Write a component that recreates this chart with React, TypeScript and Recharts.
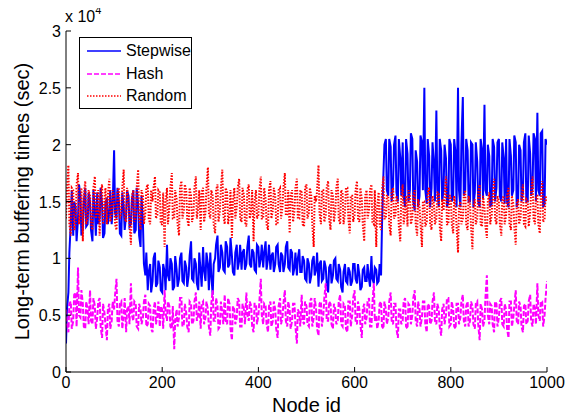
import React from 'react';
import { LineChart, Line, XAxis, YAxis } from 'recharts';

// Samples are read at node ids 0,5,10,...,1000 (A) and 2,7,12,...,997 (B)
const NODE_STEP = 5;
const B_OFFSET = 2;

// Long-term buffering times, in units of 10^4 sec
const stepwiseA = [
  0.25, 0.7, 1.32, 1.2, 1.45, 1.35, 1.55, 1.25, 1.62, 1.3,
  1.5, 1.15, 1.42, 1.58, 1.35, 1.48, 1.22, 1.52, 1.4, 1.3,
  1.95, 1.35, 1.5, 1.2, 1.45, 1.38, 1.55, 1.3, 1.6, 1.25,
  1.48, 1.1, 1.3, 0.85, 0.72, 0.95, 0.8, 1.05, 0.78, 0.92,
  0.7, 0.88, 1.12, 0.8, 0.95, 0.75, 0.9, 0.82, 1.05, 0.78,
  0.92, 0.85, 1.15, 0.8, 0.95, 0.72, 0.88, 1.1, 0.8, 0.95,
  1.05, 0.68, 1.0, 1.2, 0.92, 1.05, 0.88, 1.1, 0.95, 1.02,
  0.85, 1.12, 0.98, 0.9, 1.08, 0.95, 1.2, 0.92, 1.05, 0.88,
  1.1, 1.0, 0.92, 1.15, 1.0, 0.9, 1.05, 0.95, 1.12, 0.88,
  1.02, 0.95, 1.15, 0.9, 1.05, 0.92, 0.85, 1.08, 0.88, 0.98,
  0.8, 0.95, 0.85, 1.02, 0.9, 0.75, 0.98, 0.82, 0.92, 0.7,
  0.95, 0.85, 1.0, 0.8, 0.9, 0.7, 0.95, 0.78, 0.88, 0.8,
  0.95, 0.78, 0.85, 0.75, 0.92, 0.8, 0.82, 1.02, 0.78, 0.9,
  0.8, 0.85, 1.75, 2.05, 1.55, 1.98, 1.65, 2.08, 1.5, 1.88,
  2.02, 1.45, 1.92, 1.6, 2.05, 1.42, 1.85, 1.55, 2.02, 2.5,
  1.48, 1.9, 1.62, 1.82, 2.3, 1.45, 1.95, 1.6, 1.88, 1.5,
  2.0, 1.55, 1.92, 2.5, 1.45, 2.42, 1.6, 1.95, 1.5, 2.0,
  1.58, 1.85, 1.45, 1.95, 2.35, 1.55, 1.9, 1.48, 1.98, 1.62,
  2.05, 1.5, 1.88, 2.05, 1.45, 1.9, 1.6, 2.02, 1.52, 1.95,
  1.58, 2.1, 1.5, 1.92, 1.62, 2.05, 2.28, 1.55, 2.12, 1.48,
  2.0,
];
const stepwiseB = [
  0.55, 1.05, 1.6, 1.5, 1.15, 1.65, 1.2, 1.5, 1.28, 1.58,
  1.25, 1.6, 1.2, 1.3, 1.62, 1.18, 1.5, 1.3, 1.6, 1.45,
  1.4, 1.62, 1.22, 1.58, 1.25, 1.6, 1.28, 1.52, 1.22, 1.62,
  1.2, 1.55, 0.95, 1.05, 0.88, 0.7, 1.0, 0.75, 0.98, 0.72,
  0.95, 0.72, 0.85, 1.0, 0.72, 1.02, 0.75, 1.0, 0.8, 0.98,
  0.75, 1.02, 0.82, 1.0, 0.78, 1.05, 0.75, 0.9, 1.05, 0.72,
  0.85, 0.95, 1.12, 0.88, 1.12, 0.9, 1.15, 0.92, 1.18, 0.88,
  1.05, 0.9, 1.12, 1.05, 0.9, 1.1, 0.95, 1.08, 0.9, 1.12,
  0.92, 1.12, 1.05, 0.9, 1.12, 1.02, 0.88, 1.1, 0.95, 1.05,
  0.88, 1.1, 0.92, 1.08, 0.85, 1.05, 1.0, 0.88, 1.02, 0.82,
  1.0, 0.78, 0.98, 0.85, 1.05, 0.95, 0.8, 0.98, 0.78, 0.92,
  0.78, 0.98, 0.82, 0.95, 0.75, 0.88, 0.8, 0.92, 0.76, 0.95,
  0.82, 0.95, 0.72, 0.9, 0.8, 0.95, 0.75, 0.82, 0.92, 0.78,
  0.95, 1.3, 2.0, 1.6, 2.05, 1.5, 2.0, 1.58, 2.05, 1.55,
  1.55, 2.05, 1.5, 2.1, 1.5, 1.95, 1.45, 2.08, 1.6, 1.6,
  2.05, 1.45, 2.02, 1.5, 1.6, 2.05, 1.5, 2.0, 1.45, 2.05,
  1.5, 2.05, 1.45, 1.6, 2.0, 1.55, 2.05, 1.5, 2.02, 1.45,
  2.02, 1.5, 2.05, 1.52, 1.6, 2.0, 1.45, 2.05, 1.5, 2.02,
  1.55, 2.02, 1.48, 1.5, 2.05, 1.55, 2.08, 1.45, 2.0, 1.5,
  2.02, 1.5, 2.08, 1.55, 2.1, 1.5, 1.6, 2.1, 1.45, 2.05,
];

const hashA = [
  0.55, 0.35, 0.62, 0.45, 0.7, 0.92, 0.48, 0.6, 0.38, 0.55,
  0.72, 0.42, 0.58, 0.48, 0.65, 0.3, 0.52, 0.28, 0.6, 0.45,
  0.55, 0.82, 0.4, 0.62, 0.5, 0.35, 0.58, 0.78, 0.45, 0.6,
  0.38, 0.55, 0.48, 0.68, 0.42, 0.58, 0.35, 0.62, 0.5, 0.4,
  0.55, 0.72, 0.45, 0.58, 0.38, 0.2, 0.55, 0.48, 0.65, 0.42,
  0.52, 0.35, 0.6, 0.45, 0.7, 0.5, 0.38, 0.62, 0.48, 0.55,
  0.32, 0.72, 0.45, 0.58, 0.4, 0.52, 0.68, 0.42, 0.6, 0.28,
  0.55, 0.48, 0.62, 0.4, 0.55, 0.7, 0.45, 0.58, 0.35, 0.6,
  0.5, 0.82, 0.42, 0.58, 0.35, 0.62, 0.45, 0.55, 0.3, 0.65,
  0.48, 0.72, 0.4, 0.55, 0.45, 0.6, 0.25, 0.52, 0.68, 0.42,
  0.58, 0.4, 0.65, 0.48, 0.55, 0.32, 0.62, 0.5, 0.78, 0.45,
  0.6, 0.38, 0.55, 0.45, 0.68, 0.4, 0.58, 0.35, 0.62, 0.5,
  0.72, 0.42, 0.55, 0.3, 0.6, 0.48, 0.65, 0.4, 0.78, 0.5,
  0.45, 0.62, 0.38, 0.55, 0.48, 0.7, 0.42, 0.6, 0.3, 0.55,
  0.45, 0.65, 0.38, 0.58, 0.5, 0.72, 0.4, 0.55, 0.48, 0.62,
  0.35, 0.58, 0.45, 0.7, 0.42, 0.55, 0.32, 0.6, 0.5, 0.65,
  0.42, 0.55, 0.38, 0.6, 0.48, 0.68, 0.4, 0.62, 0.45, 0.58,
  0.38, 0.62, 0.28, 0.55, 0.45, 0.85, 0.42, 0.58, 0.35, 0.6,
  0.48, 0.65, 0.4, 0.55, 0.3, 0.62, 0.48, 0.72, 0.42, 0.58,
  0.35, 0.6, 0.45, 0.68, 0.4, 0.55, 0.78, 0.45, 0.62, 0.5,
  0.8,
];
const hashB = [
  0.42, 0.6, 0.38, 0.68, 0.4, 0.5, 0.72, 0.4, 0.62, 0.42,
  0.45, 0.65, 0.38, 0.62, 0.4, 0.6, 0.42, 0.55, 0.38, 0.62,
  0.68, 0.45, 0.6, 0.38, 0.65, 0.55, 0.42, 0.5, 0.62, 0.4,
  0.6, 0.42, 0.62, 0.4, 0.6, 0.38, 0.55, 0.42, 0.62, 0.58,
  0.38, 0.52, 0.62, 0.4, 0.58, 0.45, 0.4, 0.65, 0.4, 0.6,
  0.4, 0.62, 0.42, 0.62, 0.45, 0.62, 0.6, 0.42, 0.62, 0.4,
  0.6, 0.45, 0.65, 0.38, 0.62, 0.42, 0.45, 0.65, 0.38, 0.58,
  0.42, 0.65, 0.4, 0.6, 0.42, 0.5, 0.62, 0.4, 0.6, 0.42,
  0.62, 0.5, 0.6, 0.42, 0.58, 0.4, 0.62, 0.38, 0.58, 0.42,
  0.6, 0.45, 0.62, 0.38, 0.6, 0.4, 0.55, 0.4, 0.45, 0.62,
  0.42, 0.62, 0.4, 0.65, 0.38, 0.6, 0.4, 0.65, 0.45, 0.62,
  0.42, 0.6, 0.42, 0.62, 0.42, 0.6, 0.38, 0.62, 0.4, 0.65,
  0.45, 0.62, 0.42, 0.55, 0.42, 0.62, 0.4, 0.6, 0.45, 0.38,
  0.6, 0.4, 0.62, 0.42, 0.62, 0.45, 0.6, 0.38, 0.55, 0.42,
  0.62, 0.4, 0.6, 0.42, 0.65, 0.45, 0.62, 0.4, 0.62, 0.42,
  0.6, 0.42, 0.62, 0.45, 0.6, 0.4, 0.55, 0.42, 0.65, 0.4,
  0.62, 0.4, 0.6, 0.42, 0.62, 0.45, 0.58, 0.4, 0.62, 0.42,
  0.6, 0.42, 0.6, 0.4, 0.65, 0.5, 0.6, 0.42, 0.62, 0.4,
  0.62, 0.42, 0.6, 0.38, 0.62, 0.4, 0.58, 0.45, 0.62, 0.4,
  0.58, 0.42, 0.62, 0.45, 0.6, 0.42, 0.5, 0.62, 0.4, 0.65,
];

const randomA = [
  1.35, 1.82, 1.2, 1.6, 1.3, 1.75, 1.4, 1.15, 1.68, 1.35,
  1.55, 1.25, 1.72, 1.4, 1.2, 1.65, 1.45, 1.3, 1.7, 1.38,
  1.55, 1.25, 1.62, 1.4, 1.78, 1.32, 1.5, 1.12, 1.6, 1.35,
  1.78, 1.25, 1.55, 1.4, 1.65, 1.3, 1.5, 1.72, 1.38, 1.58,
  1.3, 1.1, 1.62, 1.45, 1.75, 1.35, 1.52, 1.2, 1.68, 1.42,
  1.6, 1.28, 1.55, 1.38, 1.72, 1.45, 1.25, 1.62, 1.4, 1.8,
  1.35, 1.55, 1.22, 1.65, 1.42, 1.78, 1.3, 1.58, 1.4, 1.18,
  1.62, 1.45, 1.7, 1.32, 1.55, 1.28, 1.65, 1.42, 1.15, 1.6,
  1.38, 1.72, 1.35, 1.52, 1.25, 1.68, 1.42, 1.55, 1.3, 1.62,
  1.45, 1.75, 1.38, 1.22, 1.6, 1.42, 1.7, 1.35, 1.58, 1.28,
  1.65, 1.4, 1.55, 1.1, 1.5, 1.82, 1.3, 1.6, 1.38, 1.68,
  1.25, 1.55, 1.42, 1.7, 1.3, 1.58, 1.4, 1.62, 1.22, 1.55,
  1.38, 1.68, 1.32, 1.52, 1.15, 1.6, 1.42, 1.65, 1.3, 1.1,
  1.58, 1.25, 1.72, 1.35, 1.55, 1.2, 1.62, 1.38, 1.5, 1.15,
  1.65, 1.4, 1.28, 1.55, 1.35, 1.6, 1.2, 1.45, 1.1, 1.5,
  1.32, 1.62, 1.25, 1.48, 1.35, 1.58, 1.15, 1.42, 1.72, 1.3,
  1.55, 1.22, 1.45, 1.05, 1.5, 1.35, 1.6, 1.25, 1.48, 1.08,
  1.52, 1.35, 1.65, 1.28, 1.45, 1.18, 1.58, 1.38, 1.7, 1.3,
  1.5, 1.2, 1.55, 1.38, 1.62, 1.25, 1.48, 1.12, 1.52, 1.35,
  1.65, 1.28, 1.5, 1.4, 1.72, 1.3, 1.55, 1.22, 1.68, 1.35,
  1.5,
];
const randomB = [
  1.6, 1.3, 1.62, 1.25, 1.65, 1.3, 1.62, 1.55, 1.3, 1.6,
  1.3, 1.62, 1.35, 1.6, 1.58, 1.3, 1.62, 1.55, 1.32, 1.6,
  1.3, 1.6, 1.35, 1.62, 1.35, 1.62, 1.3, 1.55, 1.32, 1.62,
  1.35, 1.6, 1.3, 1.62, 1.35, 1.6, 1.62, 1.35, 1.6, 1.3,
  1.58, 1.5, 1.3, 1.62, 1.35, 1.6, 1.3, 1.62, 1.35, 1.65,
  1.35, 1.62, 1.32, 1.62, 1.35, 1.6, 1.58, 1.32, 1.62, 1.4,
  1.6, 1.3, 1.6, 1.32, 1.62, 1.38, 1.62, 1.3, 1.6, 1.5,
  1.35, 1.62, 1.35, 1.62, 1.32, 1.6, 1.35, 1.6, 1.5, 1.35,
  1.6, 1.35, 1.62, 1.3, 1.6, 1.35, 1.62, 1.3, 1.6, 1.35,
  1.62, 1.38, 1.6, 1.55, 1.32, 1.62, 1.35, 1.6, 1.3, 1.62,
  1.35, 1.62, 1.3, 1.55, 1.6, 1.4, 1.6, 1.32, 1.62, 1.35,
  1.6, 1.32, 1.62, 1.35, 1.6, 1.3, 1.62, 1.35, 1.55, 1.32,
  1.6, 1.35, 1.62, 1.3, 1.55, 1.35, 1.6, 1.32, 1.6, 1.45,
  1.3, 1.6, 1.35, 1.55, 1.3, 1.58, 1.35, 1.55, 1.28, 1.52,
  1.3, 1.55, 1.6, 1.3, 1.55, 1.3, 1.52, 1.3, 1.5, 1.28,
  1.58, 1.3, 1.55, 1.3, 1.58, 1.28, 1.52, 1.55, 1.3, 1.55,
  1.3, 1.55, 1.28, 1.45, 1.3, 1.55, 1.3, 1.55, 1.28, 1.45,
  1.3, 1.58, 1.3, 1.55, 1.28, 1.5, 1.3, 1.55, 1.35, 1.55,
  1.3, 1.52, 1.3, 1.55, 1.3, 1.55, 1.28, 1.48, 1.3, 1.55,
  1.3, 1.52, 1.28, 1.58, 1.35, 1.55, 1.3, 1.55, 1.32, 1.55,
];

const xTicks = [0, 200, 400, 600, 800, 1000];
const yTicks = [0, 0.5, 1, 1.5, 2, 2.5, 3];

const seriesNames = ['Stepwise', 'Hash', 'Random'];
const seriesColors = ['#0000ff', '#ff00ff', '#ff0000'];
const seriesDash = ['', '5 2', '1.5 1.5'];

const data: { id: number; stepwise: number; hash: number; random: number }[] = [];
stepwiseA.forEach((v, i) => {
  data.push({ id: i * NODE_STEP, stepwise: v, hash: hashA[i], random: randomA[i] });
  if (i < stepwiseB.length) {
    data.push({
      id: i * NODE_STEP + B_OFFSET,
      stepwise: stepwiseB[i],
      hash: hashB[i],
      random: randomB[i],
    });
  }
});

const FONT = '"Liberation Sans", Arial, Helvetica, sans-serif';
const W = 568;
const H = 411;
const TICK_LEN = 5;

const BottomTick = (props: any) => {
  const { x, y, payload } = props;
  return (
    <g>
      <line x1={x} x2={x} y1={y} y2={y - TICK_LEN} stroke="#000" strokeWidth={1} />
      <text x={x} y={y + 16} textAnchor="middle" fontSize={16} fill="#000" fontFamily={FONT}>
        {payload.value}
      </text>
    </g>
  );
};

const LeftTick = (props: any) => {
  const { x, y, payload } = props;
  return (
    <g>
      <line x1={x} x2={x + TICK_LEN} y1={y} y2={y} stroke="#000" strokeWidth={1} />
      <text x={x - 5} y={y + 6} textAnchor="end" fontSize={16} fill="#000" fontFamily={FONT}>
        {payload.value}
      </text>
    </g>
  );
};

const TopTick = (props: any) => {
  const { x, y } = props;
  return <line x1={x} x2={x} y1={y} y2={y + TICK_LEN} stroke="#000" strokeWidth={1} />;
};

const RightTick = (props: any) => {
  const { x, y } = props;
  return <line x1={x} x2={x - TICK_LEN} y1={y} y2={y} stroke="#000" strokeWidth={1} />;
};

const LegendBox = () => (
  <div
    style={{
      position: 'absolute',
      left: 71,
      top: 29,
      border: '1px solid #000',
      background: '#fff',
      width: 111,
      height: 68,
      boxSizing: 'content-box',
      fontFamily: FONT,
      fontSize: 16,
      color: '#000',
      paddingTop: 2,
      zIndex: 2,
    }}
  >
    {seriesNames.map((name, i) => (
      <div key={name} style={{ display: 'flex', alignItems: 'center', height: 22.5 }}>
        <svg width={46} height={10} style={{ display: 'block' }}>
          <line
            x1={7}
            x2={41}
            y1={5}
            y2={5}
            stroke={seriesColors[i]}
            strokeWidth={1.5}
            strokeDasharray={seriesDash[i] || undefined}
          />
        </svg>
        <span style={{ lineHeight: '18px' }}>{name}</span>
      </div>
    ))}
  </div>
);

export default function App() {
  return (
    <div style={{ position: 'relative', width: W, height: H, fontFamily: FONT, background: '#fff' }}>
      <div
        style={{
          position: 'absolute',
          left: 57,
          top: 0,
          fontSize: 16,
          lineHeight: '18px',
          whiteSpace: 'nowrap',
          color: '#000',
          zIndex: 2,
        }}
      >
        x 10<span style={{ fontSize: 11, position: 'relative', top: -8 }}>4</span>
      </div>
      <LegendBox />
      <LineChart
        width={W}
        height={H}
        data={data}
        margin={{ top: 23, right: 29, left: 0, bottom: 0 }}
        style={{ fontFamily: FONT }}
      >
        <XAxis
          dataKey="id"
          type="number"
          domain={[0, 1000]}
          ticks={xTicks}
          allowDataOverflow
          height={47}
          tickSize={0}
          tickMargin={0}
          tickLine={false}
          tick={<BottomTick />}
          axisLine={{ stroke: '#000', strokeWidth: 1 }}
          interval={0}
          label={{ value: 'Node id', position: 'insideBottom', offset: 7, fontSize: 20, fill: '#000', fontFamily: FONT }}
        />
        <XAxis
          xAxisId="top"
          orientation="top"
          type="number"
          domain={[0, 1000]}
          ticks={xTicks}
          allowDataOverflow
          height={0}
          tickSize={0}
          tickMargin={0}
          tickLine={false}
          tick={<TopTick />}
          axisLine={{ stroke: '#000', strokeWidth: 1 }}
          interval={0}
        />
        <YAxis
          type="number"
          domain={[0, 3]}
          ticks={yTicks}
          allowDataOverflow
          width={58}
          tickSize={0}
          tickMargin={0}
          tickLine={false}
          tick={<LeftTick />}
          axisLine={{ stroke: '#000', strokeWidth: 1 }}
          interval={0}
          label={{
            value: 'Long-term buffering times (sec)',
            angle: -90,
            position: 'insideLeft',
            offset: 14,
            fontSize: 20,
            fill: '#000',
            fontFamily: FONT,
            style: { textAnchor: 'middle' },
          }}
        />
        <YAxis
          yAxisId="right"
          orientation="right"
          type="number"
          domain={[0, 3]}
          ticks={yTicks}
          allowDataOverflow
          width={0}
          tickSize={0}
          tickMargin={0}
          tickLine={false}
          tick={<RightTick />}
          axisLine={{ stroke: '#000', strokeWidth: 1 }}
          interval={0}
        />
        <Line
          dataKey="stepwise"
          name={seriesNames[0]}
          stroke={seriesColors[0]}
          strokeWidth={2}
          dot={false}
          isAnimationActive={false}
        />
        <Line
          dataKey="hash"
          name={seriesNames[1]}
          stroke={seriesColors[1]}
          strokeWidth={2}
          strokeDasharray={seriesDash[1]}
          dot={false}
          isAnimationActive={false}
        />
        <Line
          dataKey="random"
          name={seriesNames[2]}
          stroke={seriesColors[2]}
          strokeWidth={2}
          strokeDasharray={seriesDash[2]}
          dot={false}
          isAnimationActive={false}
        />
      </LineChart>
    </div>
  );
}
